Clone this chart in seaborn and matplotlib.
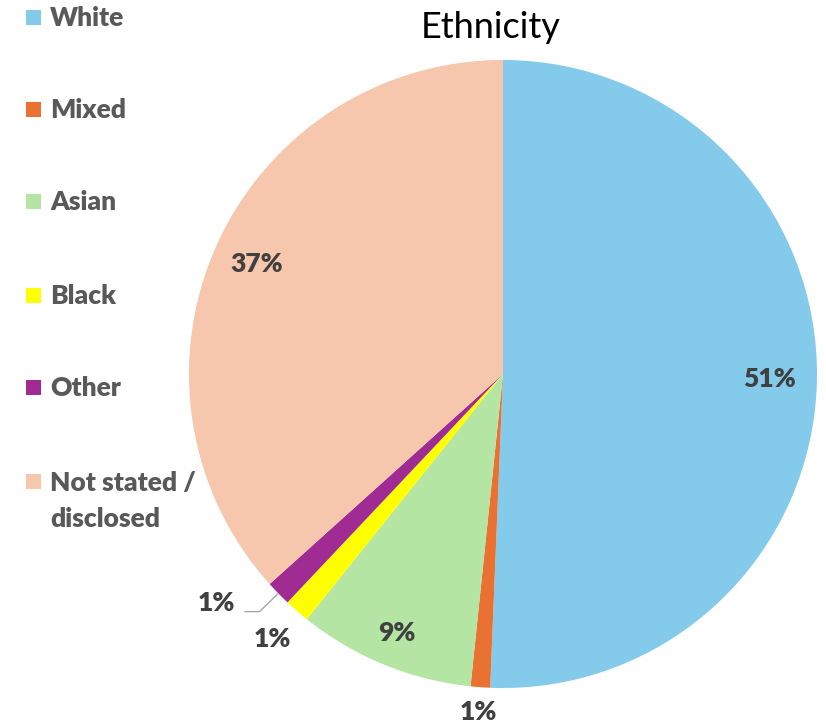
import numpy as np
import matplotlib
matplotlib.use("Agg")
import matplotlib.pyplot as plt
from matplotlib.patches import Rectangle
import seaborn as sns

# Ethnicity breakdown (percent of respondents)
categories = ["White", "Mixed", "Asian", "Black", "Other", "Not stated /\ndisclosed"]
shares = [50.7, 1.0, 9.1, 1.3, 1.3, 36.7]
slice_colors = ["#83CAEB", "#E97132", "#B4E5A2", "#FFFF00", "#A02B93", "#F6C6AD"]
# radial position of each percentage label (fraction of radius)
label_radius = [0.85, 1.08, 0.89, 1.12, None, 0.86]

sns.set_theme(style="white")
plt.rcParams["font.family"] = ["Lato", "DejaVu Sans"]
palette = sns.color_palette(slice_colors)

fig = plt.figure(figsize=(8.26, 7.24), dpi=100)
ax = fig.add_axes([189 / 826, 36 / 724, 628 / 826, 628 / 724])

wedges, _ = ax.pie(shares, colors=palette, startangle=90, counterclock=False,
                   radius=1.0, wedgeprops=dict(linewidth=0))
ax.set_xlim(-1, 1)
ax.set_ylim(-1, 1)
ax.set_aspect("equal")
ax.axis("off")

label_color = "#404040"
label_kw = dict(fontsize=19, fontweight="heavy", color=label_color)
total = sum(shares)
for w, val, r in zip(wedges, shares, label_radius):
    mid = np.deg2rad((w.theta1 + w.theta2) / 2)
    text = f"{val / total * 100:.0f}%"
    if r is not None:
        ax.text(r * np.cos(mid), r * np.sin(mid), text, ha="center", va="center",
                **label_kw)
    else:
        # small slice: label pulled out with an elbow leader line
        ex, ey = np.cos(mid), np.sin(mid)
        kx, ky = ex - 0.06, ey - 0.058
        sx = kx - 0.048
        ax.plot([ex, kx, sx], [ey, ky, ky], color="#A6A6A6", lw=1.0,
                solid_capstyle="butt", clip_on=False)
        ax.text(sx - 0.03, ky + 0.026, text, ha="right", va="center", **label_kw)

fig.text(491 / 826, 1 - 27 / 724, "Ethnicity", ha="center", va="center",
         fontsize=26, color="black")

# legend column on the left
legend_y = [18, 110, 202, 296, 388, 482]
for cat, col, yy in zip(categories, palette, legend_y):
    fy = 1 - yy / 724
    fig.patches.append(Rectangle((26 / 826, fy - 7 / 724), 15 / 826, 15 / 724,
                                 transform=fig.transFigure, facecolor=col,
                                 edgecolor="none"))
    multiline = "\n" in cat
    ty = fy + 11 / 724 if multiline else fy
    fig.text(50 / 826, ty, cat, ha="left", va="top" if multiline else "center",
             fontsize=19, fontweight="heavy", color="#595959", linespacing=1.62)

fig.savefig("out.png", dpi=100, facecolor="white")
